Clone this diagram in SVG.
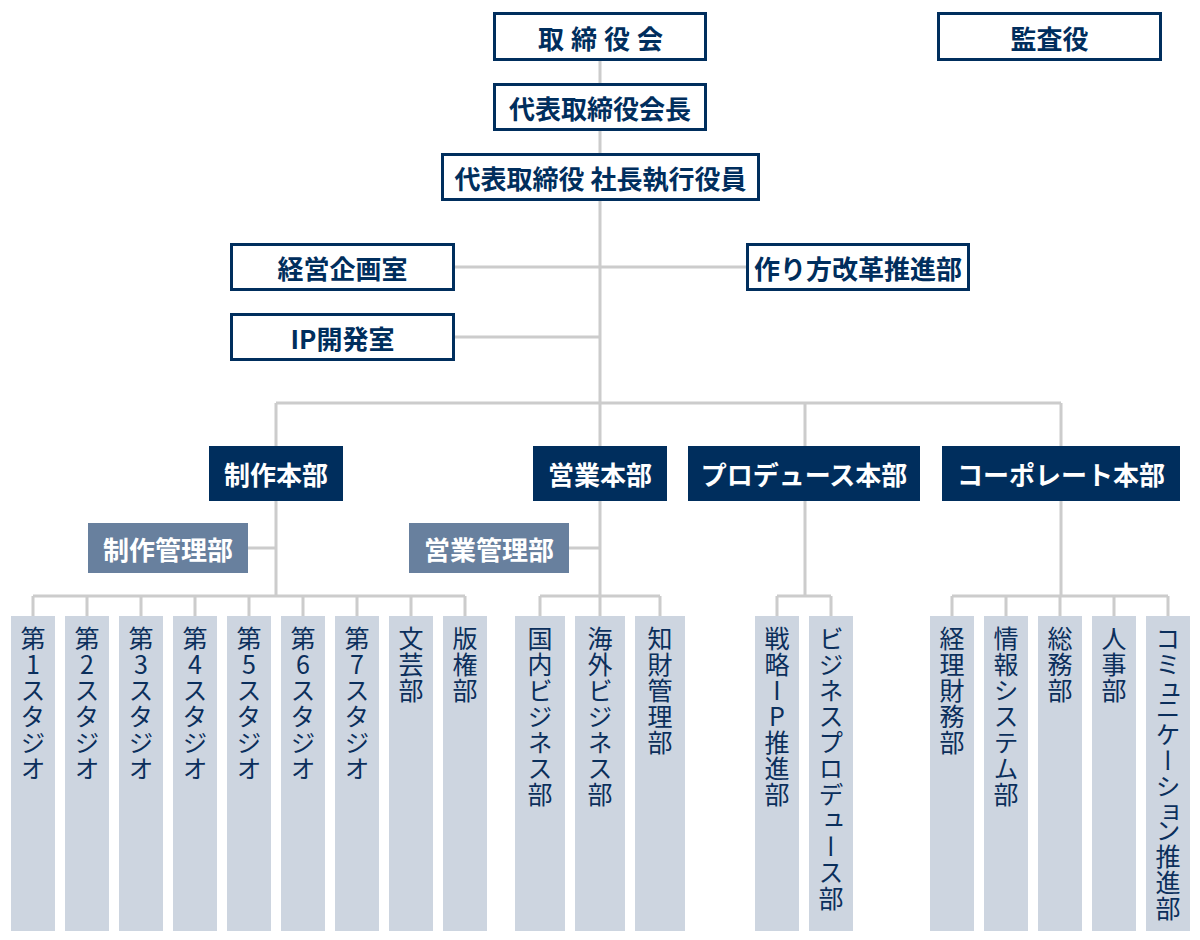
<svg xmlns="http://www.w3.org/2000/svg" width="1200" height="940" viewBox="0 0 1200 940">
<style>
.ob{fill:#ffffff;stroke:#002e5d;stroke-width:3}
.ot{font-family:"Noto Sans CJK JP","Noto Sans",sans-serif;font-weight:700;font-size:26px;fill:#002e5d;text-anchor:middle;dominant-baseline:central}
.hb{fill:#002e5d}
.ht{font-family:"Noto Sans CJK JP","Noto Sans",sans-serif;font-weight:700;font-size:26px;fill:#ffffff;text-anchor:middle;dominant-baseline:central}
.mb{fill:#68809e}
.cb{fill:#cdd5e0}
.ct{font-family:"Noto Sans CJK JP","Noto Sans",sans-serif;font-weight:400;font-size:25px;fill:#0b2f5c;writing-mode:vertical-rl;text-orientation:upright;letter-spacing:1px}
.sk{letter-spacing:-7px}
.ln{stroke:#cccccc;stroke-width:3;fill:none}
</style>
<rect width="1200" height="940" fill="#ffffff"/>
<g id="connectors">
<path class="ln" d="M600,61V446 M455,267H746 M455,337H600 M276,403H1061 M276,403V446 M805,403V446 M1061,403V446"/>
<path class="ln" d="M276,501V596 M248,548H276 M600,501V596 M569,548H600 M805,501V596 M1061,501V596"/>
<path class="ln" d="M33,596H465 M33,596V616 M87,596V616 M141,596V616 M195,596V616 M249,596V616 M303,596V616 M357,596V616 M411,596V616 M465,596V616"/>
<path class="ln" d="M540,596H660 M540,596V616 M600,596V616 M660,596V616"/>
<path class="ln" d="M777,596H831 M777,596V616 M831,596V616"/>
<path class="ln" d="M952,596H1168 M952,596V616 M1006,596V616 M1060,596V616 M1114,596V616 M1168,596V616"/>
</g>
<g id="board"><rect class="ob" x="494.5" y="13.5" width="211" height="46"/><text class="ot" x="604" y="37" letter-spacing="7">取締役会</text></g>
<g id="auditor"><rect class="ob" x="938.5" y="13.5" width="222" height="46"/><text class="ot" x="1049.5" y="37">監査役</text></g>
<g id="chairman"><rect class="ob" x="494.5" y="84.5" width="211" height="45"/><text class="ot" x="600" y="107">代表取締役会長</text></g>
<g id="president"><rect class="ob" x="442.5" y="154.5" width="316" height="45"/><text class="ot" x="600.5" y="177">代表取締役 社長執行役員</text></g>
<g id="keiei"><rect class="ob" x="231.5" y="244.5" width="222" height="45"/><text class="ot" x="342.5" y="267">経営企画室</text></g>
<g id="tsukurikata"><rect class="ob" x="747.5" y="244.5" width="221" height="45"/><text class="ot" x="858" y="267">作り方改革推進部</text></g>
<g id="ipdev"><rect class="ob" x="231.5" y="314.5" width="222" height="45"/><text class="ot" x="342.5" y="337">IP開発室</text></g>
<g id="seisaku"><rect class="hb" x="209" y="446" width="134" height="55"/><text class="ht" x="276" y="473.5">制作本部</text></g>
<g id="eigyo"><rect class="hb" x="533" y="446" width="134" height="55"/><text class="ht" x="600" y="473.5">営業本部</text></g>
<g id="produce"><rect class="hb" x="688" y="446" width="232" height="55"/><text class="ht" x="804" y="473.5">プロデュース本部</text></g>
<g id="corporate"><rect class="hb" x="942" y="446" width="238" height="55"/><text class="ht" x="1061" y="473.5">コーポレート本部</text></g>
<g id="seisakukanri"><rect class="mb" x="88" y="523" width="160" height="50"/><text class="ht" x="168" y="548">制作管理部</text></g>
<g id="eigyokanri"><rect class="mb" x="409" y="523" width="160" height="50"/><text class="ht" x="489" y="548">営業管理部</text></g>
<g id="studio1"><rect class="cb" x="11" y="616" width="44" height="315"/><text class="ct" x="33" y="626">第1スタジオ</text></g>
<g id="studio2"><rect class="cb" x="65" y="616" width="44" height="315"/><text class="ct" x="87" y="626">第2スタジオ</text></g>
<g id="studio3"><rect class="cb" x="119" y="616" width="44" height="315"/><text class="ct" x="141" y="626">第3スタジオ</text></g>
<g id="studio4"><rect class="cb" x="173" y="616" width="44" height="315"/><text class="ct" x="195" y="626">第4スタジオ</text></g>
<g id="studio5"><rect class="cb" x="227" y="616" width="44" height="315"/><text class="ct" x="249" y="626">第5スタジオ</text></g>
<g id="studio6"><rect class="cb" x="281" y="616" width="44" height="315"/><text class="ct" x="303" y="626">第6スタジオ</text></g>
<g id="studio7"><rect class="cb" x="335" y="616" width="44" height="315"/><text class="ct" x="357" y="626">第7スタジオ</text></g>
<g id="bungei"><rect class="cb" x="389" y="616" width="44" height="315"/><text class="ct" x="411" y="626">文芸部</text></g>
<g id="hanken"><rect class="cb" x="443" y="616" width="44" height="315"/><text class="ct" x="465" y="626">版権部</text></g>
<g id="kokunai"><rect class="cb" x="515" y="616" width="50" height="315"/><text class="ct" x="540" y="626">国内ビジネス部</text></g>
<g id="kaigai"><rect class="cb" x="575" y="616" width="50" height="315"/><text class="ct" x="600" y="626">海外ビジネス部</text></g>
<g id="chizai"><rect class="cb" x="635" y="616" width="50" height="315"/><text class="ct" x="660" y="626">知財管理部</text></g>
<g id="senryaku"><rect class="cb" x="755" y="616" width="44" height="315"/><text class="ct" x="777" y="626">戦略IP推進部</text></g>
<g id="bizpro"><rect class="cb" x="809" y="616" width="44" height="315"/><text class="ct" x="831" y="626">ビジネスプロデュース部</text></g>
<g id="keiri"><rect class="cb" x="930" y="616" width="44" height="315"/><text class="ct" x="952" y="626">経理財務部</text></g>
<g id="joho"><rect class="cb" x="984" y="616" width="44" height="315"/><text class="ct" x="1006" y="626">情報システム部</text></g>
<g id="somu"><rect class="cb" x="1038" y="616" width="44" height="315"/><text class="ct" x="1060" y="626">総務部</text></g>
<g id="jinji"><rect class="cb" x="1092" y="616" width="44" height="315"/><text class="ct" x="1114" y="626">人事部</text></g>
<g id="comm"><rect class="cb" x="1146" y="616" width="44" height="315"/><text class="ct" x="1168" y="626">コミ<tspan class="sk">ュ</tspan>ニケーシ<tspan class="sk">ョ</tspan>ン推進部</text></g>
</svg>
